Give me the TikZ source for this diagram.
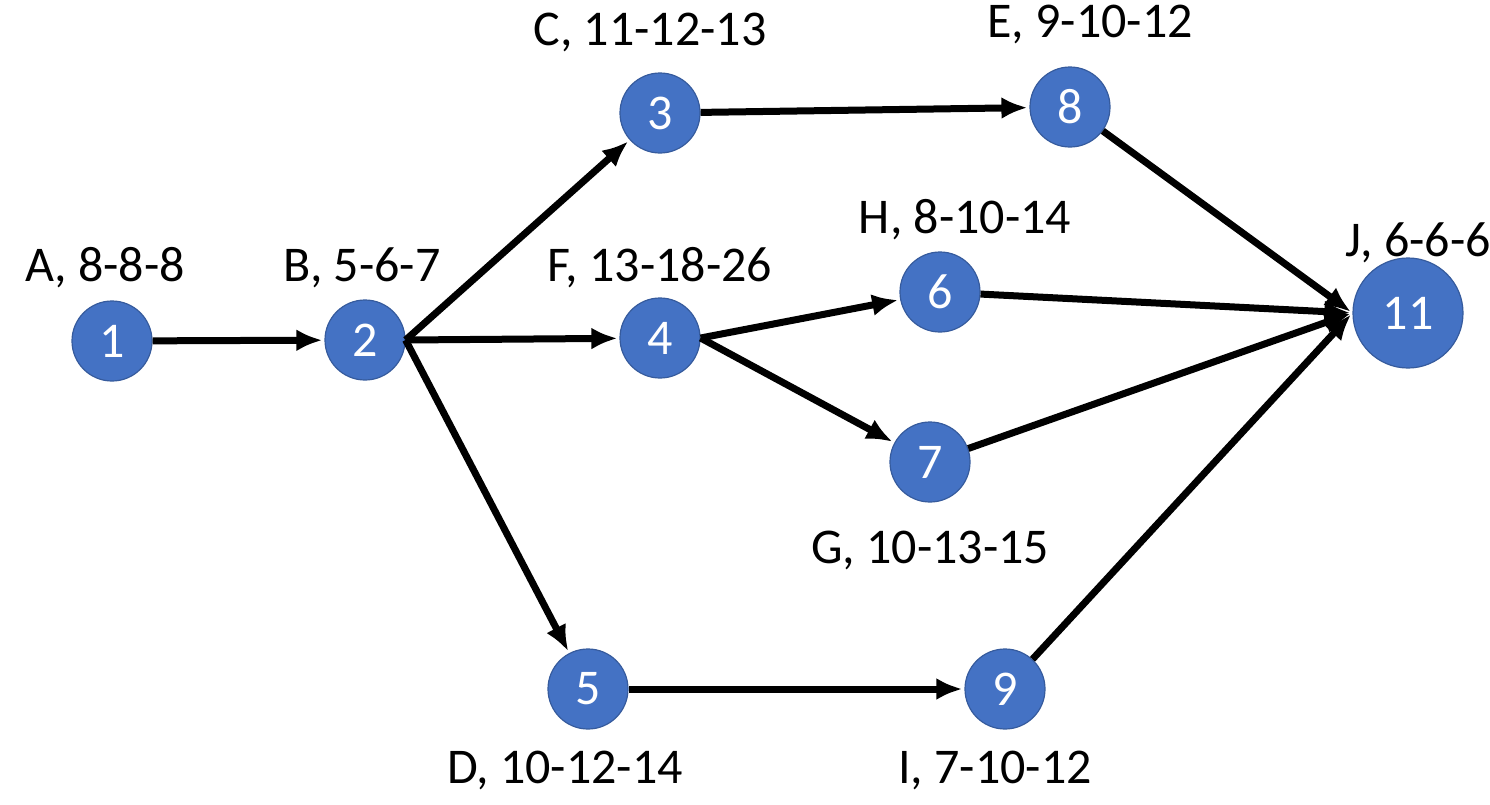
\documentclass[tikz,border=0pt]{standalone}
\usepackage{fontspec}
\setmainfont{Carlito}
\usetikzlibrary{arrows.meta}
\definecolor{nb}{HTML}{4472C4}
\begin{document}
\begin{tikzpicture}[x=0.5pt,y=-0.5pt,
  n/.style={circle,fill=nb,draw=nb!80!black,line width=0.6pt,minimum size=40pt,inner sep=0pt,text=white,font=\fontsize{25}{25}\selectfont},
  lab/.style={font=\fontsize{25}{25}\selectfont},
  e/.style={line width=3.5pt,-{Latex[length=13pt,width=11pt]},shorten >=1pt}]
\useasboundingbox (0,0) rectangle (1490,804);
\node[n] (1) at (112,341) {1};
\node[n] (2) at (365,340) {2};
\node[n] (3) at (660,113) {3};
\node[n] (4) at (660,338) {4};
\node[n] (5) at (588,689) {5};
\node[n] (6) at (940,292) {6};
\node[n] (7) at (930,462) {7};
\node[n] (8) at (1070,107) {8};
\node[n] (9) at (1005,689) {9};
\node[n,minimum size=55pt] (11) at (1408,313) {11};
\node[lab] (lA) at (105,268) {A, 8-8-8};
\node[lab] (lB) at (362,268) {B, 5-6-7};
\node[lab] (lC) at (650,32) {C, 11-12-13};
\node[lab] (lF) at (660,268) {F, 13-18-26};
\node[lab] (lH) at (965,220) {H, 8-10-14};
\node[lab] (lE) at (1090,24) {E, 9-10-12};
\node[lab] (lJ) at (1418,243) {J, 6-6-6};
\node[lab] (lG) at (930,550) {G, 10-13-15};
\node[lab] (lD) at (565,770) {D, 10-12-14};
\node[lab] (lI) at (995,770) {I, 7-10-12};
\draw[e] (1) -- (2);
\draw[e] (2.east) -- (3);
\draw[e] (2.east) -- (4);
\draw[e] (2.east) -- (5);
\draw[e] (3) -- (8);
\draw[e] (4.east) -- (6);
\draw[e] (4.east) -- (7);
\draw[e] (5) -- (9);
\draw[e] (8) -- (11.west);
\draw[e] (6) -- (11.west);
\draw[e] (7) -- (11.west);
\draw[e] (9) -- (11.west);
\end{tikzpicture}
\end{document}
